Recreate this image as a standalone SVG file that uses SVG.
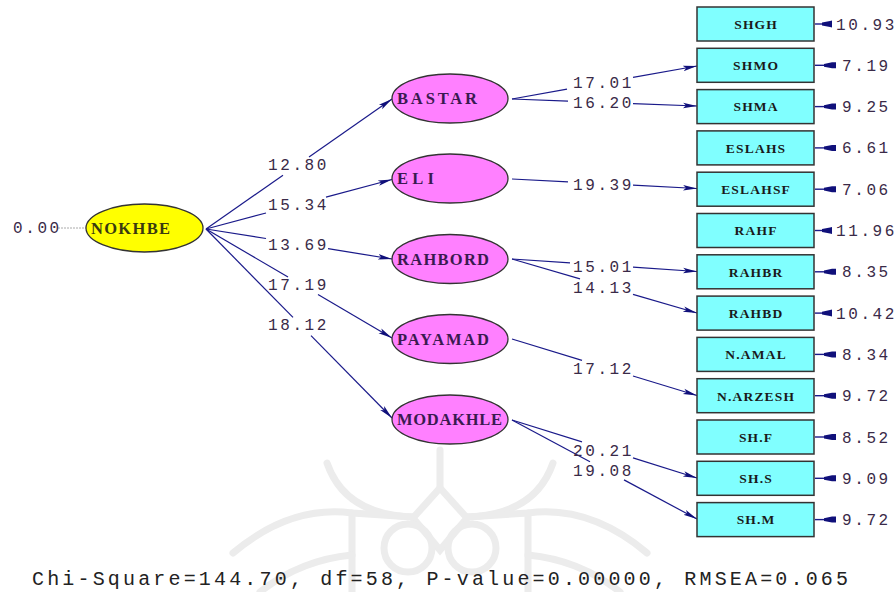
<svg xmlns="http://www.w3.org/2000/svg" width="896" height="592" viewBox="0 0 896 592">
<style>
.num{font-family:"Liberation Mono","DejaVu Sans Mono",monospace;font-size:16px;letter-spacing:2.6px;fill:#3a2a48}
.bx{fill:#80ffff;stroke:#333;stroke-width:1.5}
.bl{font-family:"Liberation Serif","DejaVu Serif",serif;font-weight:bold;font-size:13.5px;letter-spacing:1.2px;fill:#1a1a1a;text-anchor:middle}
.el{fill:#ff80ff;stroke:#333;stroke-width:1.3}
.elt{font-family:"Liberation Serif","DejaVu Serif",serif;font-weight:bold;font-size:16.5px;fill:#3a1a50}
.c{stroke:#1a1a8a;stroke-width:1.2;fill:none}
.er{stroke:#1a1a8a;stroke-width:1.4}
.erh{fill:#10107a}
.wm{fill:none;stroke:#ececec;stroke-width:7;stroke-linecap:round}
</style>
<defs>
<marker id="ah" markerUnits="userSpaceOnUse" markerWidth="16" markerHeight="10" refX="14" refY="5" orient="auto">
<path d="M0,2.2 L14,5 L0,7.8 L3,5 Z" fill="#10107a"/>
</marker>
</defs>
<rect width="896" height="592" fill="#fff"/>
<g id="watermark">
<path class="wm" d="M327,463 Q345,515 413,517"/>
<path class="wm" d="M553,463 Q535,515 467,517"/>
<path class="wm" d="M440,450 L440,488"/>
<path class="wm" d="M440,488 L467,518 L440,550 L413,518 Z"/>
<circle class="wm" cx="408" cy="548" r="24"/>
<circle class="wm" cx="472" cy="548" r="24"/>
<path class="wm" d="M233,553 Q290,505 352,513 L413,517"/>
<path class="wm" d="M647,553 Q590,505 528,513 L467,517"/>
<path class="wm" d="M352,513 L352,592"/>
<path class="wm" d="M528,513 L528,592"/>
<path class="wm" d="M260,592 Q300,560 352,555"/>
<path class="wm" d="M620,592 Q580,560 528,555"/>
</g>
<g id="connectors">
<line x1="58" y1="228" x2="86" y2="228" stroke="#aaa" stroke-width="1" stroke-dasharray="2,1"/>
<line class="c" x1="206" y1="229" x2="283" y2="175.2"/><line class="c" x1="309" y1="157" x2="392" y2="99" marker-end="url(#ah)"/>
<line class="c" x1="206" y1="229" x2="266" y2="213"/><line class="c" x1="326" y1="197.1" x2="392" y2="179.5" marker-end="url(#ah)"/>
<line class="c" x1="206" y1="229" x2="266" y2="238.5"/><line class="c" x1="328" y1="248.7" x2="392" y2="259" marker-end="url(#ah)"/>
<line class="c" x1="206" y1="229" x2="288" y2="277"/><line class="c" x1="318" y1="294.6" x2="392" y2="338" marker-end="url(#ah)"/>
<line class="c" x1="206" y1="229" x2="293" y2="317.4"/><line class="c" x1="311" y1="335.7" x2="392" y2="418" marker-end="url(#ah)"/>
<line class="c" x1="512" y1="99" x2="567" y2="89.2"/><line class="c" x1="633" y1="77.4" x2="697" y2="66" marker-end="url(#ah)"/>
<line class="c" x1="512" y1="99" x2="568" y2="101.1"/><line class="c" x1="633" y1="103.6" x2="697" y2="106" marker-end="url(#ah)"/>
<line class="c" x1="512" y1="179" x2="568" y2="181.9"/><line class="c" x1="633" y1="185.2" x2="697" y2="188.5" marker-end="url(#ah)"/>
<line class="c" x1="512" y1="259" x2="570" y2="262.9"/><line class="c" x1="633" y1="267.2" x2="697" y2="271.5" marker-end="url(#ah)"/>
<line class="c" x1="512" y1="259" x2="580" y2="278.9"/><line class="c" x1="633" y1="294.3" x2="697" y2="313" marker-end="url(#ah)"/>
<line class="c" x1="512" y1="339" x2="582" y2="360.4"/><line class="c" x1="633" y1="376" x2="697" y2="395.5" marker-end="url(#ah)"/>
<line class="c" x1="512" y1="420" x2="582" y2="441.9"/><line class="c" x1="633" y1="457.9" x2="697" y2="478" marker-end="url(#ah)"/>
<line class="c" x1="512" y1="420" x2="590" y2="461.7"/><line class="c" x1="624" y1="479.9" x2="697" y2="519" marker-end="url(#ah)"/>
<g id="error-arrows">
<line class="er" x1="815" y1="24" x2="832" y2="24"/><path class="erh" d="M822,22.6 L830,21 L832,20.5 L832,27.5 L830,27 L822,25.4 Z"/>
<line class="er" x1="815" y1="65.3" x2="836" y2="65.3"/><path class="erh" d="M824,63.9 L832,62.3 L836,62.3 L836,68.3 L832,68.3 L824,66.7 Z"/>
<line class="er" x1="815" y1="106.6" x2="836" y2="106.6"/><path class="erh" d="M824,105.2 L832,103.6 L836,103.6 L836,109.6 L832,109.6 L824,108 Z"/>
<line class="er" x1="815" y1="147.9" x2="836" y2="147.9"/><path class="erh" d="M824,146.5 L832,144.9 L836,144.9 L836,150.9 L832,150.9 L824,149.3 Z"/>
<line class="er" x1="815" y1="189.2" x2="836" y2="189.2"/><path class="erh" d="M824,187.8 L832,186.2 L836,186.2 L836,192.2 L832,192.2 L824,190.6 Z"/>
<line class="er" x1="815" y1="230.5" x2="832" y2="230.5"/><path class="erh" d="M822,229.1 L830,227.5 L832,227 L832,234 L830,233.5 L822,231.9 Z"/>
<line class="er" x1="815" y1="271.8" x2="836" y2="271.8"/><path class="erh" d="M824,270.4 L832,268.8 L836,268.8 L836,274.8 L832,274.8 L824,273.2 Z"/>
<line class="er" x1="815" y1="313.1" x2="832" y2="313.1"/><path class="erh" d="M822,311.7 L830,310.1 L832,309.6 L832,316.6 L830,316.1 L822,314.5 Z"/>
<line class="er" x1="815" y1="354.4" x2="836" y2="354.4"/><path class="erh" d="M824,353 L832,351.4 L836,351.4 L836,357.4 L832,357.4 L824,355.8 Z"/>
<line class="er" x1="815" y1="395.7" x2="836" y2="395.7"/><path class="erh" d="M824,394.3 L832,392.7 L836,392.7 L836,398.7 L832,398.7 L824,397.1 Z"/>
<line class="er" x1="815" y1="437" x2="836" y2="437"/><path class="erh" d="M824,435.6 L832,434 L836,434 L836,440 L832,440 L824,438.4 Z"/>
<line class="er" x1="815" y1="478.3" x2="836" y2="478.3"/><path class="erh" d="M824,476.9 L832,475.3 L836,475.3 L836,481.3 L832,481.3 L824,479.7 Z"/>
<line class="er" x1="815" y1="519.6" x2="836" y2="519.6"/><path class="erh" d="M824,518.2 L832,516.6 L836,516.6 L836,522.6 L832,522.6 L824,521 Z"/>
</g>
</g>
<g id="path-labels">
<text class="num" x="268" y="170">12.80</text>
<text class="num" x="268" y="210">15.34</text>
<text class="num" x="268" y="250">13.69</text>
<text class="num" x="268" y="290">17.19</text>
<text class="num" x="268" y="330">18.12</text>
<text class="num" x="573" y="88">17.01</text>
<text class="num" x="573" y="108">16.20</text>
<text class="num" x="573" y="190">19.39</text>
<text class="num" x="573" y="272">15.01</text>
<text class="num" x="573" y="293">14.13</text>
<text class="num" x="573" y="374">17.12</text>
<text class="num" x="573" y="456">20.21</text>
<text class="num" x="573" y="476">19.08</text>
<text class="num" x="13" y="233">0.00</text>
</g>
<g id="error-labels">
<text class="num" x="836" y="29.5">10.93</text>
<text class="num" x="842" y="70.8">7.19</text>
<text class="num" x="842" y="112.1">9.25</text>
<text class="num" x="842" y="153.4">6.61</text>
<text class="num" x="842" y="194.7">7.06</text>
<text class="num" x="836" y="236">11.96</text>
<text class="num" x="842" y="277.3">8.35</text>
<text class="num" x="836" y="318.6">10.42</text>
<text class="num" x="842" y="359.9">8.34</text>
<text class="num" x="842" y="401.2">9.72</text>
<text class="num" x="842" y="442.5">8.52</text>
<text class="num" x="842" y="483.8">9.09</text>
<text class="num" x="842" y="525.1">9.72</text>
</g>
<g id="NOKHBE">
<ellipse cx="144.5" cy="228" rx="58.5" ry="24" fill="#ffff00" stroke="#333" stroke-width="1.3"/>
<text x="91" y="233.5" textLength="79" lengthAdjust="spacing" style="font-family:'Liberation Serif','DejaVu Serif',serif;font-weight:bold;font-size:16.5px;fill:#3a3a10">NOKHBE</text>
</g>
<g id="BASTAR"><ellipse class="el" cx="450" cy="98.5" rx="58" ry="24.5"/><text class="elt" x="397" y="104" textLength="80" lengthAdjust="spacing">BASTAR</text></g>
<g id="ELI"><ellipse class="el" cx="450" cy="178.5" rx="58" ry="24.5"/><text class="elt" x="397" y="184" textLength="37" lengthAdjust="spacing">ELI</text></g>
<g id="RAHBORD"><ellipse class="el" cx="450" cy="259" rx="58" ry="24.5"/><text class="elt" x="397" y="264.5" textLength="92" lengthAdjust="spacing">RAHBORD</text></g>
<g id="PAYAMAD"><ellipse class="el" cx="450" cy="339" rx="58" ry="24.5"/><text class="elt" x="397" y="344.5" textLength="92" lengthAdjust="spacing">PAYAMAD</text></g>
<g id="MODAKHLE"><ellipse class="el" cx="450" cy="419.5" rx="58" ry="24.5"/><text class="elt" x="397" y="425" textLength="105" lengthAdjust="spacing">MODAKHLE</text></g>
<g id="SHGH"><rect class="bx" x="697" y="7" width="117" height="34"/><text class="bl" x="756.1" y="28.8">SHGH</text></g>
<g id="SHMO"><rect class="bx" x="697" y="48.3" width="117" height="34"/><text class="bl" x="756.1" y="70.1">SHMO</text></g>
<g id="SHMA"><rect class="bx" x="697" y="89.6" width="117" height="34"/><text class="bl" x="756.1" y="111.4">SHMA</text></g>
<g id="ESLAHS"><rect class="bx" x="697" y="130.9" width="117" height="34"/><text class="bl" x="756.1" y="152.7">ESLAHS</text></g>
<g id="ESLAHSF"><rect class="bx" x="697" y="172.2" width="117" height="34"/><text class="bl" x="756.1" y="194">ESLAHSF</text></g>
<g id="RAHF"><rect class="bx" x="697" y="213.5" width="117" height="34"/><text class="bl" x="756.1" y="235.3">RAHF</text></g>
<g id="RAHBR"><rect class="bx" x="697" y="254.8" width="117" height="34"/><text class="bl" x="756.1" y="276.6">RAHBR</text></g>
<g id="RAHBD"><rect class="bx" x="697" y="296.1" width="117" height="34"/><text class="bl" x="756.1" y="317.9">RAHBD</text></g>
<g id="N.AMAL"><rect class="bx" x="697" y="337.4" width="117" height="34"/><text class="bl" x="756.1" y="359.2">N.AMAL</text></g>
<g id="N.ARZESH"><rect class="bx" x="697" y="378.7" width="117" height="34"/><text class="bl" x="756.1" y="400.5">N.ARZESH</text></g>
<g id="SH.F"><rect class="bx" x="697" y="420" width="117" height="34"/><text class="bl" x="756.1" y="441.8">SH.F</text></g>
<g id="SH.S"><rect class="bx" x="697" y="461.3" width="117" height="34"/><text class="bl" x="756.1" y="483.1">SH.S</text></g>
<g id="SH.M"><rect class="bx" x="697" y="502.6" width="117" height="34"/><text class="bl" x="756.1" y="524.4">SH.M</text></g>
<text x="32" y="585" textLength="816" lengthAdjust="spacing" style="font-family:'Liberation Mono','DejaVu Sans Mono',monospace;font-size:20px;fill:#222">Chi-Square=144.70, df=58, P-value=0.00000, RMSEA=0.065</text>
</svg>
